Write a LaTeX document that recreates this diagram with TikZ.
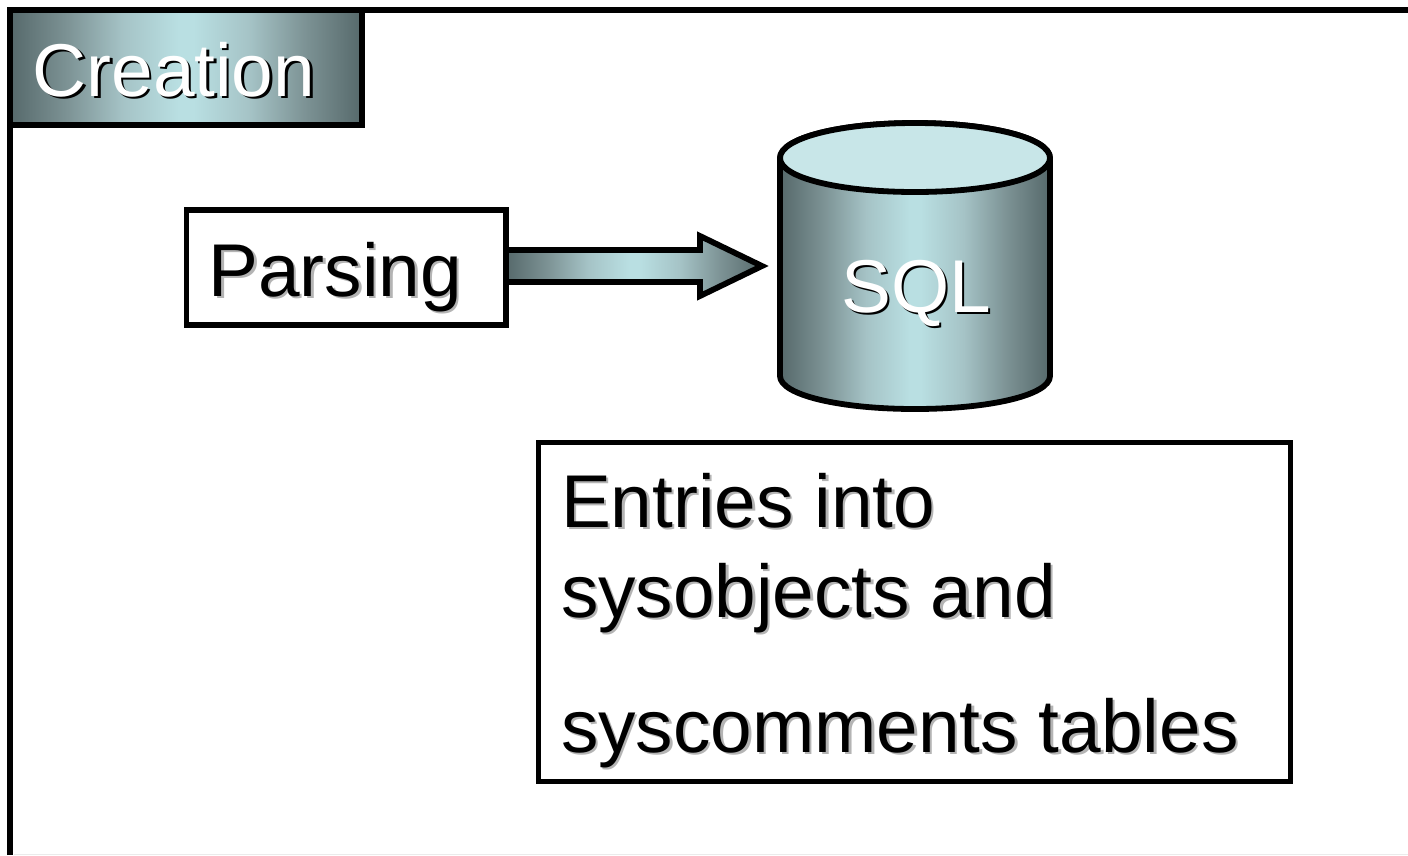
\documentclass[tikz,border=0pt]{standalone}
\usepackage{fontspec}
\setmainfont{Liberation Sans}
\definecolor{edgeC}{HTML}{56696B}
\definecolor{stepA}{HTML}{7C9294}
\definecolor{stepB}{HTML}{A5C3C6}
\definecolor{midC}{HTML}{B9DFE2}
\definecolor{topC}{HTML}{C8E6E8}
\definecolor{shadeC}{HTML}{B4B4B4}
\pgfdeclarehorizontalshading{barGrad}{100bp}{color(0bp)=(edgeC); color(25bp)=(edgeC); color(33bp)=(stepA); color(41bp)=(stepB); color(49bp)=(midC); color(51bp)=(midC); color(59bp)=(stepB); color(67bp)=(stepA); color(75bp)=(edgeC); color(100bp)=(edgeC)}
\newcommand{\shadowtext}[3]{\makebox[0pt][l]{\hspace{2.5pt}\raisebox{-2.5pt}{\color{#2}#3}}{\color{#1}#3}}
\tikzset{
  lbl/.style={inner sep=0pt,outer sep=0pt,font=\fontsize{74.8}{74.8}\selectfont},
  plainbox/.style={draw=black,line width=5.8pt,fill=white,line join=miter,inner sep=0pt,anchor=center},
  grad/.style={shading=barGrad},
  thick line/.style={draw=black,line width=5.8pt,line join=miter}
}
\begin{document}
\begin{tikzpicture}[x=1pt,y=-1pt]
\useasboundingbox (0,0) rectangle (1408,855);
\fill[white] (0,0) rectangle (1408,855);
\draw[line width=1pt,draw=black!8] (14,854) -- (1408,854);
% frame
\coordinate (frameBL) at (10,855);
\coordinate (frameTL) at (10,10);
\coordinate (frameTR) at (1408,10);
\draw[thick line] (frameBL) -- (frameTL) -- (frameTR);
% title
\node[thick line,grad,minimum width=352pt,minimum height=115pt,inner sep=0pt] (title) at (186,67.5) {};
\node[lbl,anchor=base west] (titletxt) at (32.5,96) {\shadowtext{white}{black}{Creation}};
% parsing
\node[plainbox,minimum width=319.5pt,minimum height=115pt] (parsing) at (346.2,267.5) {};
\node[lbl,anchor=base west] (parsingtxt) at (208.5,296) {\shadowtext{black}{shadeC}{Parsing}};
% cylinder
\coordinate (cyl) at (915,266);
\path[thick line,grad,line join=round]
  (780,158) -- (780,376) .. controls (780,395) and (840,409) .. (915,409)
  .. controls (990,409) and (1050,395) .. (1050,376) -- (1050,158)
  .. controls (1050,138) and (990,123) .. (915,123)
  .. controls (840,123) and (780,138) .. (780,158) -- cycle;
\draw[thick line,fill=topC]
  (780,158) .. controls (780,138) and (840,123) .. (915,123)
  .. controls (990,123) and (1050,138) .. (1050,158)
  .. controls (1050,178) and (990,192) .. (915,192)
  .. controls (840,192) and (780,178) .. (780,158) -- cycle;
\node[lbl,anchor=base] (sqltxt) at (916,312) {\shadowtext{white}{black}{SQL}};
% arrow
\coordinate (tip) at (762,266);
\path[thick line,grad] (506,250) -- (700,250) -- (700,236) -- (tip) -- (700,296) -- (700,282) -- (506,282) -- cycle;
% entries
\node[plainbox,minimum width=752pt,minimum height=339pt] (entries) at (914.5,612) {};
\node[lbl,anchor=base west] (e1) at (561,527) {\shadowtext{black}{shadeC}{Entries into}};
\node[lbl,anchor=base west] (e2) at (561,617) {\shadowtext{black}{shadeC}{sysobjects and}};
\node[lbl,anchor=base west] (e3) at (561,752) {\shadowtext{black}{shadeC}{syscomments tables}};
\end{tikzpicture}
\end{document}
